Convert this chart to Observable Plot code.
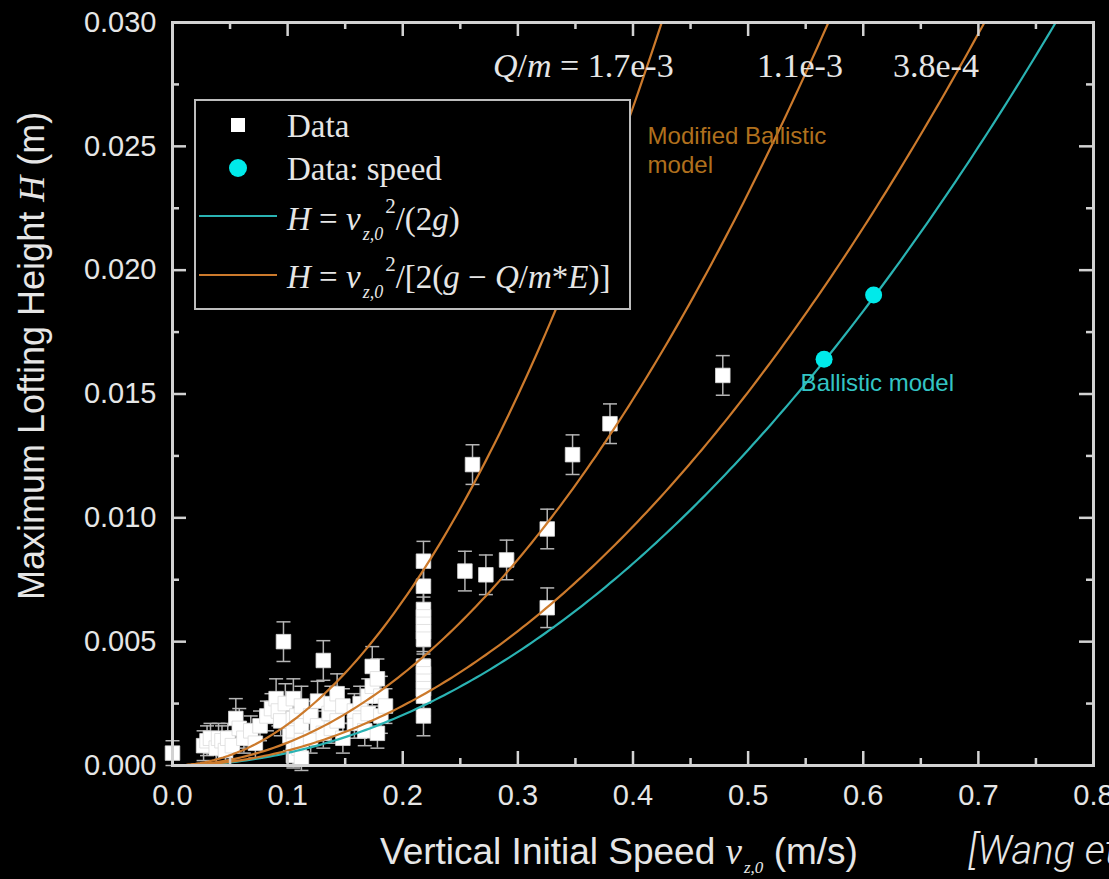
<!DOCTYPE html>
<html><head><meta charset="utf-8">
<script src="https://cdn.jsdelivr.net/npm/d3@7"></script>
<script src="https://cdn.jsdelivr.net/npm/@observablehq/plot@0.6"></script>
<style>
html,body{margin:0;padding:0;background:#000;overflow:hidden;}
#chart{width:1109px;height:879px;}
text{white-space:pre;}
</style></head><body><div id="chart"></div>
<script>
// ---------- data ----------
const dataV = [0.000,0.027,0.030,0.033,0.038,0.040,0.043,0.046,0.048,0.052,0.055,0.058,0.062,0.068,0.072,0.076,0.082,0.086,0.090,0.092,0.0964,0.094,0.098,0.102,0.105,0.105,0.105,0.105,0.105,0.108,0.110,0.112,0.112,0.112,0.112,0.120,0.120,0.126,0.126,0.131,0.131,0.136,0.138,0.138,0.143,0.143,0.148,0.148,0.158,0.158,0.163,0.163,0.167,0.170,0.170,0.1735,0.1735,0.178,0.178,0.181,0.181,0.185,0.218,0.218,0.218,0.218,0.218,0.218,0.218,0.218,0.218,0.218,0.218,0.218,0.218,0.254,0.2606,0.2722,0.2902,0.3255,0.3255,0.3475,0.380,0.478];
const dataH = [0.0005,0.0008,0.0010,0.0011,0.0007,0.0011,0.0010,0.0006,0.0011,0.0008,0.0019,0.0015,0.0011,0.0014,0.0009,0.0016,0.0020,0.0023,0.0027,0.0022,0.0050,0.0018,0.0025,0.0012,0.0027,0.0004,0.0009,0.0014,0.0019,0.0020,0.0007,0.0024,0.0003,0.0010,0.0016,0.0020,0.0011,0.0026,0.0016,0.00424,0.0013,0.0021,0.0025,0.0015,0.0029,0.0018,0.0024,0.0011,0.0017,0.0022,0.0025,0.0018,0.0014,0.0028,0.0021,0.0040,0.0032,0.0035,0.0013,0.0028,0.0020,0.0024,0.00825,0.00724,0.0063,0.0060,0.0057,0.0054,0.0051,0.0040,0.0037,0.0034,0.0031,0.0028,0.0020,0.00785,0.01215,0.0077,0.0083,0.00955,0.00637,0.01255,0.0138,0.01575];
const dataErr = [0.0005,0.0006,0.0006,0.0006,0.0006,0.0006,0.0006,0.0006,0.0006,0.0006,0.0008,0.0008,0.0006,0.0006,0.0006,0.0006,0.0006,0.0006,0.0008,0.0006,0.0008,0.0006,0.0008,0.0006,0.0008,0.0005,0.0006,0.0006,0.0006,0.0006,0.0006,0.0008,0.0005,0.0006,0.0006,0.0006,0.0006,0.0008,0.0006,0.0008,0.0006,0.0006,0.0007,0.0006,0.0008,0.0006,0.0007,0.0006,0.0006,0.0007,0.0007,0.0007,0.0006,0.0007,0.0007,0.0008,0.0008,0.0008,0.0006,0.0008,0.0007,0.0007,0.0008,0.0008,0.0008,0.0008,0.0008,0.0008,0.0008,0.0008,0.0008,0.0008,0.0008,0.0008,0.0008,0.0008,0.0008,0.0008,0.0008,0.0008,0.0008,0.0008,0.0008,0.0008];
const speedV = [0.566, 0.609];
const speedH = [0.0164, 0.0190];
// model parameters (from legend / labels)
const gAcc = 9.81;          // m/s^2
const fieldE = 4000;        // V/m
const qmValues = [1.7e-3, 1.1e-3, 3.8e-4];
const qmLabels = ["1.7e-3", "1.1e-3", "3.8e-4"];
const xMajor = [0,0.1,0.2,0.3,0.4,0.5,0.6,0.7,0.8];
const xMinor = [0.05,0.15,0.25,0.35,0.45,0.55,0.65,0.75];
const yMajor = [0,0.005,0.010,0.015,0.020,0.025,0.030];
const yMinor = [0.0025,0.0075,0.0125,0.0175,0.0225,0.0275];

// ---------- build tables ----------
const points = dataV.map((v,i)=>({v, h:dataH[i], e:dataErr[i]}));
const speed = speedV.map((v,i)=>({v, h:speedH[i]}));
const vs = d3.range(0, 0.8001, 0.004);
const ballistic = vs.map(v=>({v, h: v*v/(2*gAcc)}));
const modified = qmValues.flatMap(q => vs.map(v=>({q, v, h: v*v/(2*(gAcc - q*fieldE))})));

const W=1109, HT=879, mL=172, mR=16, mT=22, mB=114;
const fw = W-mL-mR, fh = HT-mT-mB;
const axisCol = "#d2d2d2", textCol = "#e6e6e6";
const teal = "#2ab3b3", orange = "#cc7a2c", cyan = "#00eaea";
const cap = {draw(c, size){ const r=Math.sqrt(size/Math.PI); c.moveTo(-r,0); c.lineTo(r,0); }};

const plot = Plot.plot({
  width: W, height: HT, marginLeft: mL, marginRight: mR, marginTop: mT, marginBottom: mB,
  style: {background:"#000", color: textCol, fontFamily:"Liberation Sans, Arial, sans-serif", overflow:"visible"},
  x: {domain:[0,0.8]},
  y: {domain:[0,0.03]},
  marks: [
    Plot.ruleX(points, {x:"v", y1:d=>d.h-d.e, y2:d=>d.h+d.e, stroke:"#b5b5b5", strokeWidth:1.5}),
    Plot.dot(points, {x:"v", y:d=>d.h+d.e, symbol:cap, r:7, stroke:"#b5b5b5", strokeWidth:1.5, fill:"none"}),
    Plot.dot(points, {x:"v", y:d=>d.h-d.e, symbol:cap, r:7, stroke:"#b5b5b5", strokeWidth:1.5, fill:"none"}),
    Plot.dot(points, {x:"v", y:"h", symbol:"square", r:8.2, fill:"#ffffff", stroke:"#dcdcdc", strokeWidth:0.8}),
    Plot.line(ballistic, {x:"v", y:"h", stroke:teal, strokeWidth:2.2, clip:true}),
    Plot.line(modified, {x:"v", y:"h", z:"q", stroke:orange, strokeWidth:2.2, clip:true}),
    Plot.dot(speed, {x:"v", y:"h", r:8.5, fill:cyan}),
    Plot.text(["Modified Ballistic\nmodel"], {x:0.4127, y:0.0259, text:d=>d, textAnchor:"start", lineAnchor:"top", fill:"#b0701d", fontSize:24, lineHeight:1.2}),
    Plot.text(["Ballistic model"], {x:0.5456, y:0.0158, text:d=>d, textAnchor:"start", lineAnchor:"top", fill:"#33c4c4", fontSize:24}),
    // inward ticks on all four sides
    Plot.tickX(xMajor, {x:d=>d, stroke:axisCol, strokeWidth:2.5, insetTop:fh-14}),
    Plot.tickX(xMinor, {x:d=>d, stroke:axisCol, strokeWidth:2.5, insetTop:fh-7}),
    Plot.tickX(xMajor, {x:d=>d, stroke:axisCol, strokeWidth:2.5, insetBottom:fh-14}),
    Plot.tickX(xMinor, {x:d=>d, stroke:axisCol, strokeWidth:2.5, insetBottom:fh-7}),
    Plot.tickY(yMajor, {y:d=>d, stroke:axisCol, strokeWidth:2.5, insetRight:fw-14}),
    Plot.tickY(yMinor, {y:d=>d, stroke:axisCol, strokeWidth:2.5, insetRight:fw-7}),
    Plot.tickY(yMajor, {y:d=>d, stroke:axisCol, strokeWidth:2.5, insetLeft:fw-14}),
    Plot.tickY(yMinor, {y:d=>d, stroke:axisCol, strokeWidth:2.5, insetLeft:fw-7}),
    Plot.axisX(xMajor, {tickSize:0, tickPadding:19, tickFormat:d3.format(".1f"), fontSize:29, label:null}),
    Plot.axisY(yMajor, {tickSize:0, tickPadding:16, tickFormat:d3.format(".3f"), fontSize:29, label:null}),
    Plot.frame({stroke:axisCol, strokeWidth:3})
  ]
});
document.getElementById("chart").appendChild(plot);

// ---------- rich text (legend, labels, titles) ----------
const svg = d3.select(plot);
function rich(g, x, y, parts, base){
  const t = g.append("text").attr("x",x).attr("y",y).attr("text-anchor","start")
    .attr("font-family", base.family).attr("font-size", base.size).attr("fill", base.fill)
    .attr("font-style", base.style||null).attr("font-weight", base.weight||null);
  if (base.transform) t.attr("transform", base.transform);
  for (const p of parts){
    const s = t.append("tspan").text(p.t);
    if (p.i) s.attr("font-style","italic");
    if (p.f) s.attr("font-family", p.f);
    if (p.s) s.attr("font-size", p.s);
    if (p.dy) s.attr("dy", p.dy);
    if (p.dx) s.attr("dx", p.dx);
  }
  return t;
}
const serif = "Liberation Serif, Times New Roman, serif";
const sans = "Liberation Sans, Arial, sans-serif";

// Q/m labels along the top
const qmG = svg.append("g");
rich(qmG, 493, 77, [{t:"Q",i:1},{t:"/"},{t:"m",i:1},{t:" = "+qmLabels[0]}], {family:serif, size:34, fill:textCol});
rich(qmG, 757, 77, [{t:qmLabels[1]}], {family:serif, size:34, fill:textCol});
rich(qmG, 893, 77, [{t:qmLabels[2]}], {family:serif, size:34, fill:textCol});

// legend
const lg = svg.append("g");
lg.append("rect").attr("x",195).attr("y",100).attr("width",435).attr("height",209)
  .attr("fill","#000").attr("stroke","#bdbdbd").attr("stroke-width",2);
lg.append("rect").attr("x",231).attr("y",118).attr("width",14).attr("height",14).attr("fill","#fff");
lg.append("circle").attr("cx",238).attr("cy",168).attr("r",9).attr("fill",cyan);
lg.append("line").attr("x1",199).attr("x2",277).attr("y1",216).attr("y2",216).attr("stroke",teal).attr("stroke-width",2.2);
lg.append("line").attr("x1",199).attr("x2",277).attr("y1",275).attr("y2",275).attr("stroke",orange).attr("stroke-width",2.2);
const lbase = {family:serif, size:33, fill:textCol};
rich(lg, 287, 137, [{t:"Data"}], lbase);
rich(lg, 287, 180, [{t:"Data: speed"}], lbase);
rich(lg, 287, 230, [{t:"H",i:1},{t:" = "},{t:"v",i:1},{t:"z,0",i:1,s:18,dy:10,dx:2},{t:"2",s:21,dy:-27,dx:2},{t:"/(2",dy:17},{t:"g",i:1},{t:")"}], lbase);
rich(lg, 287, 288, [{t:"H",i:1},{t:" = "},{t:"v",i:1},{t:"z,0",i:1,s:18,dy:10,dx:2},{t:"2",s:21,dy:-27,dx:2},{t:"/[2(",dy:17},{t:"g",i:1},{t:" − "},{t:"Q",i:1},{t:"/"},{t:"m",i:1},{t:"*"},{t:"E",i:1},{t:")]"}], lbase);

// axis titles
const tg = svg.append("g");
rich(tg, 380, 864, [{t:"Vertical Initial Speed "},{t:"v",i:1,f:serif},{t:"z,0",i:1,f:serif,s:17,dy:9,dx:2},{t:" (m/s)",dy:-9}], {family:sans, size:37, fill:textCol});
rich(tg, 0, 0, [{t:"Maximum Lofting Height "},{t:"H",i:1,f:serif},{t:" (m)"}], {family:sans, size:36, fill:textCol, transform:"translate(44,600) rotate(-90)"});
rich(tg, 968, 864, [{t:"[Wang et al., 2016]"}], {family:"Roboto, Liberation Sans, sans-serif", size:40, fill:textCol, style:"italic", weight:300});
</script></body></html>
